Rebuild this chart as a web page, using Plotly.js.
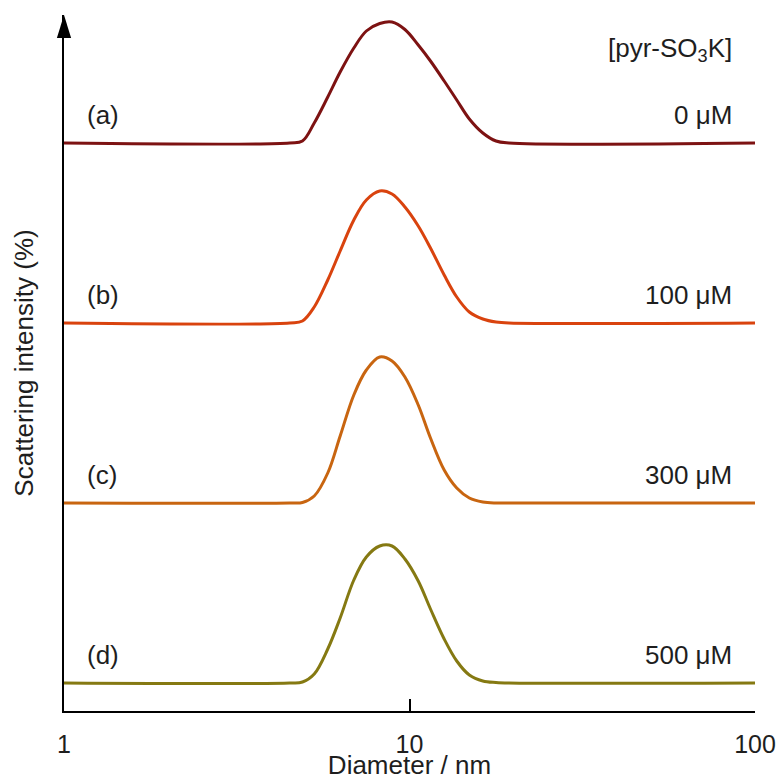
<!DOCTYPE html>
<html>
<head>
<meta charset="utf-8">
<script src="https://cdn.plot.ly/plotly-3.0.1.min.js"></script>
<style>html,body{margin:0;padding:0;background:#fff;}#chart{width:783px;height:780px;}</style>
</head>
<body>
<div id="chart"></div>
<script>
// Diameter (nm), shared by all four distributions
const diameter = [1, 4.5, 4.9, 5.3, 5.8, 6.3, 6.9, 7.5, 8.2, 8.9, 9.7, 10.6, 11.5, 12.6, 13.7, 14.9, 16.3, 17.8, 19.4, 100];
// Scattering intensity (%) for each concentration
const intensity0 = [0, 0, 0.2, 2.0, 4.6, 7.1, 9.5, 11.2, 11.95, 12.1, 11.35, 9.8, 8.2, 6.2, 4.3, 2.4, 1.0, 0.2, 0, 0];
const intensity100 = [0, 0, 0.2, 1.6, 4.3, 7.2, 10.3, 12.3, 13.2, 12.9, 11.6, 9.7, 7.5, 4.8, 2.6, 1.1, 0.4, 0.1, 0, 0];
const intensity300 = [0, 0, 0.05, 0.7, 3.0, 6.7, 10.8, 13.3, 14.6, 14.2, 12.6, 9.8, 6.5, 3.3, 1.5, 0.5, 0.1, 0, 0, 0];
const intensity500 = [0, 0, 0.1, 0.9, 3.4, 6.5, 10.3, 12.6, 13.7, 13.7, 12.4, 10.2, 7.4, 4.4, 2.2, 0.8, 0.2, 0.05, 0, 0];
// Vertical stacking offsets (%)
const offsets = [56.8, 38.8, 20.8, 2.8];
const letters = ["(a)", "(b)", "(c)", "(d)"];
const concLabels = ["0 μM", "100 μM", "300 μM", "500 μM"];
const tickValues = [1, 10, 100];
const tickLabels = ["1", "10", "100"];

const series = [intensity0, intensity100, intensity300, intensity500];
const colors = ["#7d1212", "#d9430e", "#c86510", "#857912"];
const FONT = "Liberation Sans, Arial, Helvetica, sans-serif";
const TXT = "#1e1e1e";

const traces = series.map((s, i) => ({
  x: diameter,
  y: s.map(v => v + offsets[i]),
  type: "scatter",
  mode: "lines",
  line: {color: colors[i], width: 3, shape: "spline", smoothing: 1},
  hoverinfo: "skip",
  showlegend: false
}));

const annotations = [];
letters.forEach((t, i) => {
  annotations.push({xref: "paper", yref: "y", x: 0.031, y: offsets[i] + 2.8, text: t,
    showarrow: false, xanchor: "left", yanchor: "middle", font: {family: FONT, size: 26, color: TXT}});
  annotations.push({xref: "paper", yref: "y", x: 0.9696, y: offsets[i] + 2.8, text: concLabels[i],
    showarrow: false, xanchor: "right", yanchor: "middle", font: {family: FONT, size: 26, color: TXT}});
});
annotations.push({xref: "paper", yref: "y", x: 0.9696, y: 66.2, text: "[pyr-SO<sub>3</sub>K]",
  showarrow: false, xanchor: "right", yanchor: "middle", font: {family: FONT, size: 26, color: TXT}});

const layout = {
  width: 783, height: 780,
  margin: {l: 64, r: 28, t: 15, b: 69},
  paper_bgcolor: "#fff", plot_bgcolor: "#fff",
  font: {family: FONT, size: 26, color: TXT},
  xaxis: {
    type: "log", range: [0, 2],
    tickvals: tickValues, ticktext: tickLabels,
    ticks: "inside", ticklen: 12, tickwidth: 2, tickcolor: "#000",
    showline: true, linewidth: 2, linecolor: "#000",
    showgrid: false, zeroline: false,
    ticklabelstandoff: 10,
    tickfont: {family: FONT, size: 25, color: TXT},
    title: {text: "Diameter / nm", font: {family: FONT, size: 26, color: TXT}, standoff: 0},
    automargin: false
  },
  yaxis: {
    range: [0, 69.6],
    showline: true, linewidth: 2, linecolor: "#000",
    showticklabels: false, ticks: "",
    showgrid: false, zeroline: false,
    title: {text: "Scattering intensity (%)", font: {family: FONT, size: 26, color: TXT}, standoff: 21},
    automargin: false
  },
  shapes: [{
    type: "path", xref: "paper", yref: "paper",
    path: "M -0.0103 0.967 L 0.0103 0.967 L 0 1 Z",
    fillcolor: "#000", line: {color: "#000", width: 0}
  }],
  annotations: annotations
};

Plotly.newPlot("chart", traces, layout, {displayModeBar: false, staticPlot: true});
</script>
</body>
</html>
